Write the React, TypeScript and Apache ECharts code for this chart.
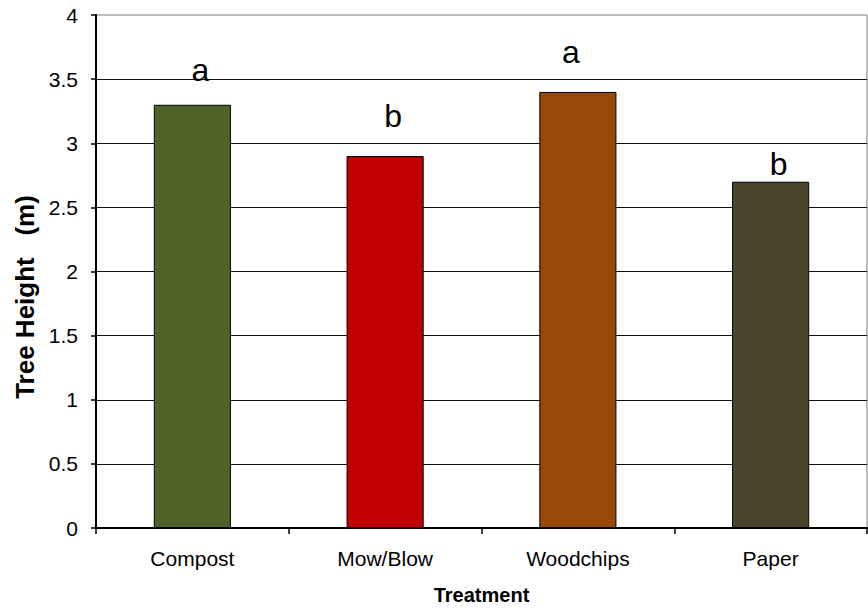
import React, { useEffect, useRef } from "react";
import * as echarts from "echarts";

const categories = ["Compost", "Mow/Blow", "Woodchips", "Paper"];
const heights = [3.3, 2.9, 3.4, 2.7];
const letters = ["a", "b", "a", "b"];
const barColors = ["#4F6228", "#C00000", "#984807", "#4A452A"];
const yTicks = { min: 0, max: 4, interval: 0.5 };

// layout nudges for the significance letters (distance above bar, horizontal offset)
const letterDistance = [19, 24, 24, 2];
const letterShift = [8, 8, -7, 8];

const FONT = "'Liberation Sans', Arial, Helvetica, sans-serif";

export default function App() {
  const ref = useRef<HTMLDivElement>(null);
  useEffect(() => {
    if (!ref.current) return;
    const chart = echarts.init(ref.current, null, { renderer: "svg" });
    chart.setOption({
      animation: false,
      backgroundColor: "#ffffff",
      textStyle: { fontFamily: FONT },
      grid: {
        left: 96,
        right: 1,
        top: 15,
        bottom: 80,
        show: true,
        borderColor: "#808080",
        borderWidth: 1,
        backgroundColor: "transparent",
      },
      xAxis: {
        type: "category",
        data: categories,
        name: "Treatment",
        nameLocation: "middle",
        nameGap: 57,
        nameTextStyle: { fontFamily: FONT, fontSize: 20, fontWeight: "bold", color: "#000" },
        axisLine: { show: true, lineStyle: { color: "#000", width: 2 } },
        axisTick: { show: true, length: 6, lineStyle: { color: "#000", width: 1.5 } },
        axisLabel: { color: "#000", fontSize: 21, fontFamily: FONT, margin: 20 },
        splitLine: { show: false },
      },
      yAxis: {
        type: "value",
        min: yTicks.min,
        max: yTicks.max,
        interval: yTicks.interval,
        axisLine: { show: true, lineStyle: { color: "#000", width: 2 } },
        axisTick: { show: true, length: 5, lineStyle: { color: "#000", width: 1.5 } },
        axisLabel: { color: "#000", fontSize: 21, fontFamily: FONT, margin: 18 },
        splitLine: { show: true, showMaxLine: false, lineStyle: { color: "#111", width: 1 } },
      },
      graphic: [
        {
          type: "text",
          x: 25,
          y: 297,
          rotation: Math.PI / 2,
          style: {
            text: "Tree Height   (m)",
            fontFamily: FONT,
            fontSize: 26,
            fontWeight: "bold",
            fill: "#000",
            align: "center",
            verticalAlign: "middle",
          },
        },
      ],
      series: [
        {
          type: "bar",
          barWidth: "40%",
          data: heights.map((v, i) => ({
            value: v,
            itemStyle: { color: barColors[i], borderColor: "#000", borderWidth: 1 },
            label: {
              show: true,
              position: "top",
              distance: letterDistance[i],
              offset: [letterShift[i], 0],
              formatter: letters[i],
              fontSize: 32,
              fontFamily: FONT,
              color: "#000",
            },
          })),
        },
      ],
    });
    return () => chart.dispose();
  }, []);
  return (
    <div
      ref={ref}
      style={{ position: "fixed", left: 0, top: 0, width: 868, height: 610, background: "#fff" }}
    />
  );
}
